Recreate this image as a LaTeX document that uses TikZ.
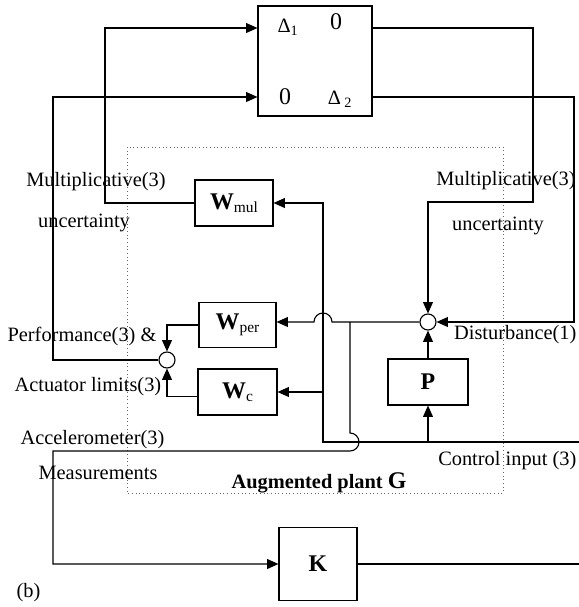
\documentclass[tikz,border=0pt]{standalone}
\usepackage{fontspec}
\setmainfont{Liberation Serif}
\usepackage{tikz}
\usetikzlibrary{arrows.meta, calc}
\tikzstyle{bloc} = [rectangle, draw=black, inner sep=0pt]
\tikzstyle{somme} = [circle, draw=black, minimum size=0.4cm, inner sep=0pt]
\tikzstyle{etiquette} = [inner sep=0pt]
\newcommand{\gros}{\fontsize{17}{20}\selectfont}
\newcommand{\petit}{\fontsize{11}{13}\selectfont}

\begin{document}
\begin{tikzpicture}[x=0.025cm, y=-0.025cm, font=\fontsize{14.5}{17}\selectfont, line width=0.8pt, >={Triangle[length=8pt, width=7pt]}]
    \useasboundingbox (0,0) rectangle (579,607);

    \draw[dotted, line width=0.6pt, black!60] (127,147) rectangle (503,493);

    \node (delta) [bloc, minimum width=2.85cm, minimum height=2.75cm] at (315,61) {};
    \node (d11) [etiquette] at (288,27) {Δ\textsubscript{1}};
    \node (d12) [etiquette, font=\gros] at (336,22) {0};
    \node (d21) [etiquette, font=\gros] at (285,97) {0};
    \node (d22) [etiquette] at (340,99) {Δ\,\textsubscript{2}};

    \node (wmul) [bloc, minimum width=1.95cm, minimum height=1.15cm] at (234,203) {\gros\textbf{W}\raisebox{-2pt}{\petit mul}};
    \node (wper) [bloc, minimum width=1.925cm, minimum height=1.125cm] at (237.5,325) {\gros\textbf{W}\raisebox{-2pt}{\petit per}};
    \node (wc) [bloc, minimum width=1.975cm, minimum height=1.15cm] at (237.5,392) {\gros\textbf{W}\raisebox{-2pt}{\petit c}};
    \node (p) [bloc, minimum width=2cm, minimum height=1.15cm] at (428,382) {\gros\textbf{P}};
    \node (k) [bloc, minimum width=1.95cm, minimum height=1.825cm] at (318,564) {\gros\textbf{K}};
    \node (sumr) [somme] at (428,322) {};
    \node (suml) [somme] at (167,360) {};

    \coordinate (mulL) at (105,28);
    \coordinate (perfL) at (53,97);
    \coordinate (mulR) at (533,202);
    \coordinate (dist) at (574,322);
    \coordinate (meas) at (350,322);
    \coordinate (ctrlL) at (323,442);
    \coordinate (ctrlR) at (579,442);
    \coordinate (accL) at (53,451);
    \coordinate (kR) at (579,564);

    \draw[->] (wmul.west) -| (mulL) -- (delta.west |- mulL);
    \draw[->] (suml.west) -| (perfL) -- (delta.west |- perfL);
    \draw[->] (delta.east |- mulL) -| (mulR) -| (sumr.north);
    \draw[->] (delta.east |- perfL) -| (dist) -- (sumr.east);
    \draw[->] (p.north) -- (sumr.south);
    \draw[->] (sumr.west) -- ($(ctrlL |- sumr)+(9,0)$) arc (0:180:0.225cm) -- (wper.east |- sumr);
    \draw[->] (meas) -- ($(meas)+(0,111)$) arc (90:-90:0.225cm) -- (accL) |- (k.west);
    \draw[->] (ctrlR) -- (ctrlL) |- (wmul.east);
    \draw[->] (ctrlL |- wc) -- (wc.east);
    \draw[->] (p.south |- ctrlL) -- (p.south);
    \draw (k.east) -- (kR);
    \draw[->] (wper.west) -| (suml.north);
    \draw[->] ([yshift=-0.12cm]wc.west) -| (suml.south);

    \node (txtmul1) [etiquette] at (96,182) {Multiplicative(3)};
    \node (txtinc1) [etiquette] at (84,223) {uncertainty};
    \node (txtmul2) [etiquette] at (506,181) {Multiplicative(3)};
    \node (txtinc2) [etiquette] at (498,226) {uncertainty};
    \node (txtperf) [etiquette, anchor=west] at (7,336) {Performance(3) \&};
    \node (txtact) [etiquette, anchor=west] at (14,387) {Actuator limits(3)};
    \node (txtacc) [etiquette, anchor=west] at (20,440) {Accelerometer(3)};
    \node (txtmes) [etiquette, anchor=west] at (38,473) {Measurements};
    \node (txtplant) [etiquette] at (319,483) {\textbf{Augmented plant {\gros G}}};
    \node (txtctrl) [etiquette, anchor=east] at (577,461) {Control input (3)};
    \node (txtdist) [etiquette, anchor=east] at (577,335) {Disturbance(1)};
    \node (txtb) [etiquette, anchor=west] at (16,593) {(b)};
\end{tikzpicture}
\end{document}
